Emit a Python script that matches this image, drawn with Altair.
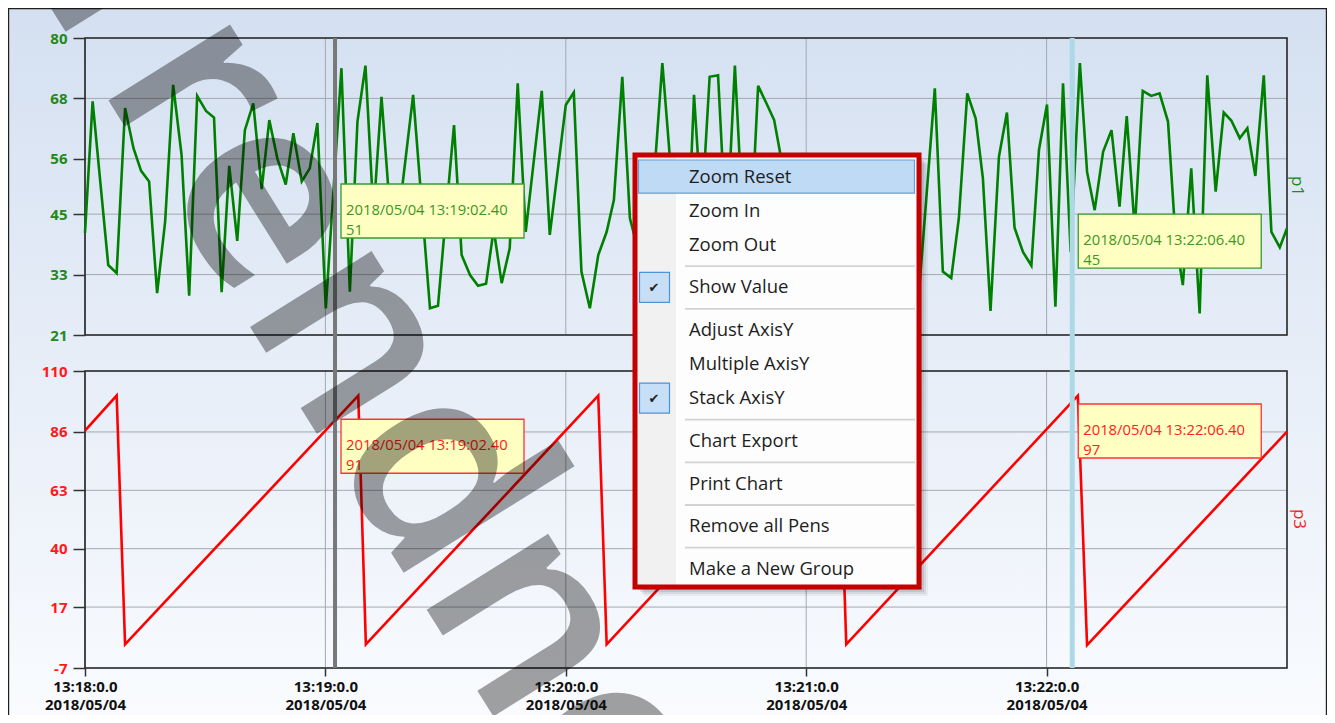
import altair as alt
import pandas as pd

# ------------------------------------------------------------------ data
p1_sec = [0, 1.9, 5.8, 7.9, 10.0, 12.1, 14.0, 16.0, 18.0, 20.0, 22.0, 24.1, 26.0, 28.0, 30.2,
          32.2, 34.1, 36.0, 38.0, 39.9, 42.0, 44.1, 46.0, 48.0, 50.1, 52.0, 54.1, 56.1, 58.0,
          60.1, 64.0, 66.1, 68.0, 70.0, 72.0, 74.0, 76.0, 78.0, 81.9, 86.1, 88.1, 90.1, 92.1,
          94.0, 96.1, 98.1, 100.1, 102.0, 104.0, 106.0, 108.0, 110.0, 114.0, 116.0, 120.0,
          122.0, 123.9, 126.0, 128.1, 130.2, 132.0, 134.1, 136.0, 138.0, 140.0, 142.0, 144.1,
          146.1, 148.1, 150.1, 152.0, 153.9, 155.9, 158.0, 160.1, 162.2, 164.1, 166.0, 168.0,
          170.1, 172.0, 174.0, 176, 178, 180, 182, 184, 186, 188, 190, 192, 194, 196, 198,
          200, 202, 204, 206, 208.3, 212.1, 214.1, 216.2, 218.1, 220.2, 222.3, 224.1, 226.0,
          228.1, 230.1, 232.0, 234.1, 236.2, 238.1, 240.1, 242.2, 244.1, 246.0, 248.3, 250.1,
          252.0, 254.1, 256.2, 258.2, 260.0, 262.0, 264.0, 266.1, 268.2, 270.3, 272.2, 274.0,
          276.1, 278.2, 280.1, 282.2, 284.2, 286.1, 288.2, 290.1, 292.1, 294.2, 296.1, 298.2,
          300]
p1_val = [41.3, 67.4, 34.9, 33.3, 66.1, 58.1, 53.6, 51.5, 29.3, 43.5, 70.7, 56.8, 28.8, 68.5,
          65.5, 64.2, 29.5, 54.6, 39.7, 61.7, 67.0, 50.0, 63.7, 56.1, 50.9, 61.1, 51.5, 54.1,
          63.1, 26.3, 74.0, 29.6, 63.4, 74.5, 45, 68.3, 47, 42.5, 68.7, 26.3, 26.8, 45, 62.7,
          36.9, 32.9, 30.8, 31.2, 42, 31.3, 38.2, 71.0, 41.5, 69.5, 40.9, 66.7, 69.2, 33.6,
          26.3, 36.9, 41.5, 47.8, 72.3, 44.2, 38, 33, 52, 75.0, 55, 40, 32, 68.7, 45, 72.3,
          72.6, 40, 74.5, 45, 38, 70.5, 67.0, 63.7, 55, 34, 48, 30, 52, 41, 36, 55, 44, 29,
          50, 38, 46, 33, 54, 40, 48, 30.9, 70.0, 33.6, 32.3, 44.2, 69.0, 64.0, 52.1, 25.8,
          56.4, 65.2, 42.3, 37.5, 34.8, 57.8, 66.8, 26.6, 71.0, 37.5, 75.0, 53.4, 45.8, 57.4,
          61.7, 46.5, 64.5, 42, 69.5, 68.5, 69.0, 63.4, 40, 30.9, 54.1, 25.3, 72.6, 49.5,
          65.2, 63.6, 60.1, 62.1, 52.6, 72.6, 41.5, 38.4, 42.2]
p3_sec = [0, 7.9, 10.0, 68.2, 70.1, 128.1, 130.2, 188.0, 190.0, 247.8, 250.1, 300]
p3_val = [86.5, 100.3, 2.3, 100.3, 2.3, 100.3, 2.3, 100.3, 2.3, 100.3, 2.0, 86.1]

p1_ticks = [21, 33, 45, 56, 68, 80]
p3_ticks = [-7, 17, 40, 63, 86, 110]
x_ticks = [0, 60, 120, 180, 240]
x_tick_time = ["13:18:0.0", "13:19:0.0", "13:20:0.0", "13:21:0.0", "13:22:0.0"]
x_tick_date = "2018/05/04"
x_domain = [0, 300]

cursor_sec = [62.4, 246.4]
cursor_stamp = ["2018/05/04 13:19:02.40", "2018/05/04 13:22:06.40"]
cursor_p1 = [51, 45]
cursor_p3 = [91, 97]
pen_names = ["p1", "p3"]

menu_groups = [["Zoom Reset", "Zoom In", "Zoom Out"], ["Show Value"],
               ["Adjust AxisY", "Multiple AxisY", "Stack AxisY"], ["Chart Export"],
               ["Print Chart"], ["Remove all Pens"], ["Make a New Group"]]
menu_checked = ["Show Value", "Stack AxisY"]
menu_hover = "Zoom Reset"
watermark = "Trendnote"

# ------------------------------------------------------------------ style / layout
OX, OY = 85, 38          # page position of the plot origin
W, H = 1202, 630         # whole plotting area (two stacked panels)
PH, GAP = 297, 36        # panel height, gap between panels
FONT = "Open Sans"
GREEN, RED = "#008000", "#ff0000"
GREEN_LBL, RED_LBL = "#23891a", "#ff1a1a"
GRID = "#a4a8b0"
FRAME = "#262626"

one = pd.DataFrame({"k": [0]})


def prect(x0, y0, x1, y1, **mk):
    return alt.Chart(one).mark_rect(**mk).encode(
        x=alt.value(x0 - OX), x2=alt.value(x1 - OX),
        y=alt.value(y0 - OY), y2=alt.value(y1 - OY))


def prule(x0, y0, x1, y1, **mk):
    return alt.Chart(one).mark_rule(**mk).encode(
        x=alt.value(x0 - OX), x2=alt.value(x1 - OX),
        y=alt.value(y0 - OY), y2=alt.value(y1 - OY))


def ptext(txt, x, y, **mk):
    return alt.Chart(one).mark_text(**mk).encode(
        x=alt.value(x - OX), y=alt.value(y - OY), text=alt.value(txt))


label_expr = " : ".join(
    f"datum.value == {v} ? ['{t}', '{x_tick_date}']" for v, t in zip(x_ticks, x_tick_time)
) + " : ''"
x_axis = alt.Axis(orient="bottom", values=x_ticks, title=None, grid=False, domain=False,
                  tickSize=8, tickColor="#333", tickWidth=1.5, labelExpr=label_expr,
                  labelFont=FONT, labelFontSize=15, labelFontWeight="bold",
                  labelColor="#111", labelPadding=3, labelLineHeight=18.5,
                  labelFlush=False, labelOverlap=False, zindex=1)

XS = alt.Scale(domain=x_domain, nice=False, zero=False)
YT = alt.Scale(domain=[p1_ticks[0], p1_ticks[-1]], range=[PH, 0], nice=False, zero=False)
YB = alt.Scale(domain=[p3_ticks[0], p3_ticks[-1]], range=[H, H - PH], nice=False, zero=False)


def X(field):
    return alt.X(f"{field}:Q", scale=XS, axis=x_axis)


def yaxis(vals, color):
    return alt.Axis(orient="left", values=vals, title=None, grid=False, domain=False,
                    tickSize=12, tickColor="#333", tickWidth=1.5, labelColor=color,
                    labelExpr="toString(datum.value)",
                    labelFont=FONT, labelFontSize=15, labelFontWeight="bold",
                    labelPadding=6, zindex=1)


df1 = pd.DataFrame({"sec": p1_sec, "val": p1_val})
df3 = pd.DataFrame({"sec": p3_sec, "val": p3_val})
cur = pd.DataFrame({"sec": cursor_sec, "p1": cursor_p1, "p3": cursor_p3,
                    "t1": [f"{s}\n{v}" for s, v in zip(cursor_stamp, cursor_p1)],
                    "t3": [f"{s}\n{v}" for s, v in zip(cursor_stamp, cursor_p3)]})

layers = []

# background gradient + outer border
grad = {"gradient": "linear", "x1": 0, "y1": 0, "x2": 0, "y2": 1,
        "stops": [{"offset": 0, "color": "#d4e0f1"}, {"offset": 1, "color": "#f9fbfe"}]}
layers.append(prect(8, 8, 1327, 715, fill=grad, strokeWidth=0))
layers.append(prect(8.6, 8.6, 1326.4, 760, fillOpacity=0, stroke="#1e1e1e", strokeWidth=1.2))


def panel(df, ticks, scale, color, lbl_color):
    out = []
    out.append(alt.Chart(pd.DataFrame({"v": ticks})).mark_rule(color=GRID, strokeWidth=1)
               .encode(y=alt.Y("v:Q", scale=scale, axis=yaxis(ticks, lbl_color))))
    out.append(alt.Chart(pd.DataFrame({"sec": x_ticks, "lo": ticks[0], "hi": ticks[-1]}))
               .mark_rule(color=GRID, strokeWidth=1)
               .encode(x=X("sec"), y=alt.Y("lo:Q", scale=scale, axis=None), y2="hi:Q"))
    out.append(alt.Chart(pd.DataFrame({"a": [x_domain[0]], "b": [x_domain[1]],
                                       "lo": [ticks[0]], "hi": [ticks[-1]]}))
               .mark_rect(fillOpacity=0, stroke=FRAME, strokeWidth=1.6)
               .encode(x=X("a"), x2="b:Q", y=alt.Y("lo:Q", scale=scale, axis=None), y2="hi:Q"))
    out.append(alt.Chart(df).mark_line(color=color, strokeWidth=2.6)
               .encode(x=X("sec"), y=alt.Y("val:Q", scale=scale, axis=None)))
    return out


layers += panel(df1, p1_ticks, YT, GREEN, GREEN_LBL)
layers += panel(df3, p3_ticks, YB, RED, RED_LBL)

# cursors
for i, (col, w) in enumerate([("#787878", 4), ("#add8e6", 5)]):
    layers.append(alt.Chart(cur.iloc[[i]]).mark_rule(color=col, strokeWidth=w)
                  .encode(x=X("sec"), y=alt.value(0), y2=alt.value(H)))

# value tooltips
for fld, txt, scale, stroke, tcol in [("p1", "t1", YT, "#3a9a2e", "#3d961e"),
                                      ("p3", "t3", YB, "#ff3333", "#ff2020")]:
    layers.append(alt.Chart(cur).mark_rect(fill="#ffffc2", stroke=stroke, strokeWidth=1.3,
                                           xOffset=6, x2Offset=189, y2Offset=54)
                  .encode(x=X("sec"), x2="sec:Q",
                          y=alt.Y(f"{fld}:Q", scale=scale, axis=None), y2=f"{fld}:Q"))
    layers.append(alt.Chart(cur).mark_text(align="left", baseline="middle", dx=11, dy=27,
                                           lineBreak="\n", lineHeight=20, font=FONT,
                                           fontSize=14.8, color=tcol)
                  .encode(x=X("sec"), y=alt.Y(f"{fld}:Q", scale=scale, axis=None),
                          text=f"{txt}:N"))

# pen names on the right
layers.append(ptext(pen_names[0], 1297, 186, angle=90, align="center", baseline="middle",
                    font=FONT, fontSize=17, color=GREEN_LBL))
layers.append(ptext(pen_names[1], 1299, 519, angle=90, align="center", baseline="middle",
                    font=FONT, fontSize=17, color=RED_LBL))

# context menu
mx0, my0, mx1, my1 = 635, 155, 919, 587
for d, op in [(9, 0.05), (7, 0.07), (5, 0.09), (3, 0.11)]:
    layers.append(prect(mx0 + d, my0 + d, mx1 + d, my1 + d, fill="#000", opacity=op))
layers.append(prect(mx0, my0, mx1, my1, fill="#fdfdfd"))
layers.append(prect(mx0 + 2, my0 + 2, 676, my1 - 2, fill="#f1f1f1"))

cy = 176.7
for gi, group in enumerate(menu_groups):
    if gi > 0:
        sy = cy - 12.5
        layers.append(prule(685, sy, 915, sy, color="#d3d3d3", strokeWidth=1.8))
        cy += 8.7
    for name in group:
        if name == menu_hover:
            layers.append(prect(638.5, cy - 16.7, 914.5, cy + 16.5, fill="#bfdaf5",
                                stroke="#62a0de", strokeWidth=1.2))
        if name in menu_checked:
            layers.append(prect(639.5, cy - 15, 669.5, cy + 15, fill="#c6dff6",
                                stroke="#4d93da", strokeWidth=1.2))
            layers.append(ptext("\u2714", 654, cy + 1, align="center", baseline="middle",
                                font="DejaVu Sans", fontSize=13, color="#222"))
        layers.append(ptext(name, 689, cy, align="left", baseline="middle", font=FONT,
                            fontSize=18.5, color="#1e1e1e"))
        cy += 34
layers.append(prect(mx0, my0, mx1, my1, fillOpacity=0, stroke="#c40000", strokeWidth=5))

# watermark
layers.append(ptext(watermark, 440, 480, angle=58, align="center", baseline="middle",
                    font=FONT, fontWeight=600, fontSize=265, color="#000", opacity=0.36))

chart = (alt.layer(*layers)
         .resolve_scale(y="independent")
         .properties(width=W, height=H,
                     autosize=alt.AutoSizeParams(type="none"),
                     padding={"left": 77, "top": 30, "right": 40, "bottom": 47})
         .configure_view(stroke=None))

chart.save("out.html", embed_options={"renderer": "svg", "actions": False})
